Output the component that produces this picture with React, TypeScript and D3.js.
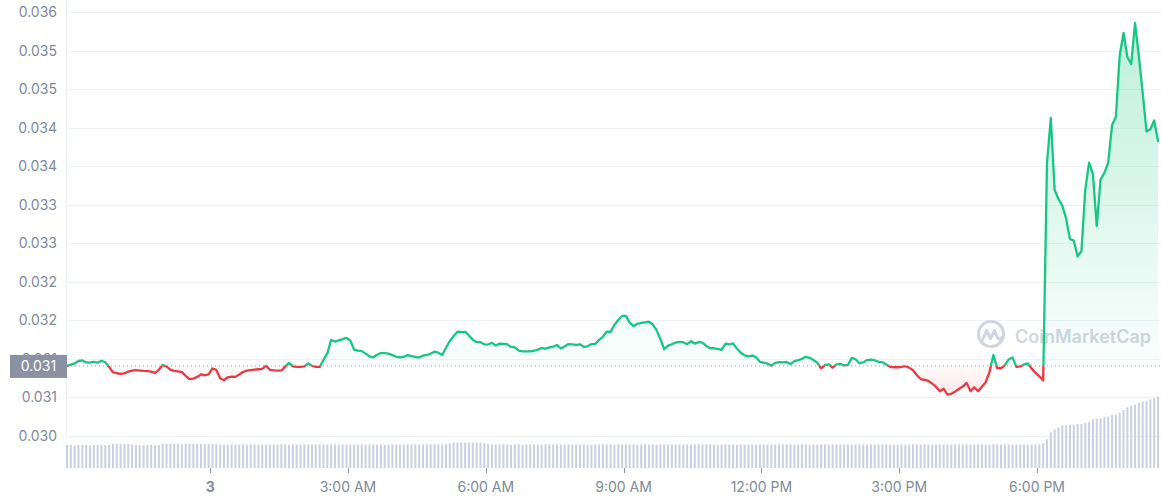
import React from "react";
import * as d3 from "d3";

const W = 1161;
const H = 500;

const startTime = new Date(2023, 0, 2, 20, 53);
const stepMinutes = 5;

const prices = [
  0.031409,0.031425,0.031442,0.031473,0.031480,0.031454,0.031451,0.031460,0.031451,0.031476,
  0.031457,0.031396,0.031327,0.031314,0.031305,0.031311,0.031336,0.031349,0.031355,0.031349,
  0.031344,0.031341,0.031336,0.031319,0.031359,0.031424,0.031400,0.031361,0.031344,0.031337,
  0.031330,0.031280,0.031237,0.031244,0.031266,0.031298,0.031288,0.031300,0.031376,0.031357,
  0.031248,0.031224,0.031262,0.031271,0.031267,0.031297,0.031330,0.031348,0.031355,0.031362,
  0.031366,0.031371,0.031411,0.031359,0.031350,0.031348,0.031350,0.031400,0.031448,0.031402,
  0.031397,0.031396,0.031402,0.031442,0.031411,0.031396,0.031396,0.031486,0.031571,0.031746,
  0.031725,0.031741,0.031756,0.031773,0.031739,0.031621,0.031607,0.031601,0.031568,0.031534,
  0.031521,0.031553,0.031576,0.031575,0.031569,0.031550,0.031527,0.031520,0.031528,0.031549,
  0.031537,0.031525,0.031518,0.031544,0.031551,0.031569,0.031594,0.031581,0.031551,0.031645,
  0.031732,0.031796,0.031853,0.031848,0.031852,0.031805,0.031750,0.031717,0.031716,0.031689,
  0.031686,0.031708,0.031674,0.031698,0.031694,0.031690,0.031655,0.031651,0.031608,0.031598,
  0.031599,0.031599,0.031606,0.031620,0.031641,0.031632,0.031649,0.031659,0.031680,0.031636,
  0.031662,0.031693,0.031689,0.031682,0.031690,0.031656,0.031664,0.031693,0.031695,0.031747,
  0.031787,0.031855,0.031852,0.031940,0.032005,0.032057,0.032058,0.031970,0.031924,0.031956,
  0.031968,0.031975,0.031982,0.031949,0.031873,0.031758,0.031625,0.031673,0.031690,0.031712,
  0.031722,0.031715,0.031691,0.031730,0.031699,0.031717,0.031712,0.031668,0.031638,0.031638,
  0.031629,0.031616,0.031698,0.031687,0.031702,0.031634,0.031580,0.031547,0.031534,0.031544,
  0.031521,0.031463,0.031453,0.031438,0.031413,0.031449,0.031458,0.031454,0.031460,0.031432,
  0.031471,0.031483,0.031501,0.031527,0.031514,0.031486,0.031451,0.031377,0.031420,0.031429,
  0.031388,0.031429,0.031435,0.031415,0.031422,0.031514,0.031496,0.031444,0.031455,0.031485,
  0.031490,0.031483,0.031462,0.031458,0.031427,0.031397,0.031392,0.031392,0.031396,0.031405,
  0.031387,0.031353,0.031288,0.031239,0.031227,0.031214,0.031180,0.031140,0.031081,0.031112,
  0.031038,0.031047,0.031075,0.031110,0.031141,0.031189,0.031082,0.031130,0.031081,0.031139,
  0.031199,0.031333,0.031551,0.031379,0.031379,0.031419,0.031493,0.031519,0.031396,0.031403,
  0.031428,0.031442,0.031374,0.031318,0.031274,0.031219,0.034042,0.034625,0.033691,0.033575,
  0.033490,0.033320,0.033056,0.033034,0.032830,0.032900,0.033695,0.034047,0.033896,0.033224,
  0.033828,0.033914,0.034048,0.034534,0.034641,0.035442,0.035728,0.035416,0.035326,0.035857,
  0.035429,0.034949,0.034450,0.034479,0.034593,0.034327,
];

const volumes = [
  2.30,2.31,2.26,2.30,2.29,2.31,2.27,2.30,2.30,2.32,
  2.30,2.31,2.40,2.41,2.39,2.42,2.40,2.36,2.30,2.29,
  2.26,2.30,2.31,2.28,2.30,2.40,2.41,2.39,2.40,2.42,
  2.38,2.40,2.41,2.39,2.40,2.40,2.42,2.39,2.40,2.41,
  2.36,2.35,2.33,2.36,2.34,2.35,2.37,2.33,2.35,2.36,
  2.34,2.35,2.36,2.33,2.35,2.34,2.36,2.35,2.33,2.36,
  2.35,2.34,2.36,2.35,2.33,2.35,2.36,2.34,2.35,2.37,
  2.36,2.35,2.34,2.36,2.35,2.33,2.35,2.36,2.34,2.35,
  2.36,2.34,2.35,2.33,2.36,2.35,2.34,2.36,2.35,2.37,
  2.35,2.36,2.34,2.35,2.36,2.35,2.37,2.36,2.35,2.38,
  2.45,2.52,2.55,2.56,2.54,2.55,2.53,2.55,2.52,2.48,
  2.40,2.36,2.35,2.34,2.36,2.35,2.33,2.35,2.36,2.34,
  2.35,2.36,2.34,2.35,2.33,2.36,2.35,2.34,2.36,2.35,
  2.34,2.36,2.35,2.33,2.35,2.36,2.34,2.35,2.36,2.35,
  2.37,2.36,2.35,2.34,2.36,2.35,2.34,2.36,2.35,2.33,
  2.35,2.36,2.34,2.35,2.33,2.36,2.35,2.34,2.36,2.35,
  2.34,2.36,2.35,2.33,2.35,2.36,2.34,2.35,2.36,2.35,
  2.33,2.35,2.36,2.34,2.35,2.33,2.36,2.35,2.34,2.36,
  2.35,2.34,2.36,2.35,2.33,2.35,2.36,2.34,2.35,2.36,
  2.35,2.33,2.35,2.36,2.34,2.35,2.33,2.36,2.35,2.34,
  2.36,2.35,2.34,2.36,2.35,2.33,2.35,2.36,2.34,2.35,
  2.36,2.35,2.33,2.35,2.36,2.34,2.35,2.33,2.36,2.35,
  2.34,2.36,2.35,2.34,2.36,2.35,2.33,2.35,2.36,2.34,
  2.35,2.33,2.36,2.35,2.34,2.36,2.35,2.33,2.35,2.36,
  2.34,2.35,2.36,2.35,2.34,2.36,2.35,2.33,2.35,2.36,
  2.35,2.34,2.37,2.37,2.37,2.47,2.87,3.57,3.87,4.07,
  4.27,4.27,4.33,4.33,4.40,4.40,4.53,4.63,4.87,4.93,
  4.97,5.13,5.13,5.33,5.33,5.53,5.80,6.07,6.23,6.33,
  6.53,6.63,6.73,6.87,7.00,7.13,
];

const yTickValues = [0.036, 0.0355, 0.035, 0.0345, 0.034, 0.0335, 0.033, 0.0325, 0.032, 0.0315, 0.031, 0.0305];
const yTickLabels = ["0.036", "0.035", "0.035", "0.034", "0.034", "0.033", "0.033", "0.032", "0.032", "0.031", "0.031", "0.030"];
const xTickHours = [0, 3, 6, 9, 12, 15, 18];
const xTickLabels = ["3", "3:00 AM", "6:00 AM", "9:00 AM", "12:00 PM", "3:00 PM", "6:00 PM"];
const currentPriceLabel = "0.031";
const watermarkText = "CoinMarketCap";

const GREEN = "#16c784";
const RED = "#ea3943";
const LABEL = "#808a9d";
const GRID = "#eff2f5";
const FONT = "Inter, 'Liberation Sans', Arial, sans-serif";

export default function App() {
  const times = prices.map((_, i) => new Date(startTime.getTime() + i * stepMinutes * 60000));
  const x = d3.scaleTime().domain([times[0], times[times.length - 1]]).range([67, 1158]);
  const y = d3.scaleLinear().domain([0.0305, 0.036]).range([436, 12]);
  const yVol = d3.scaleLinear().domain([0, 10]).range([468, 368]);
  const base = prices[0];
  const yBase = y(base);

  const line = d3
    .line<number>()
    .x((_, i) => x(times[i]))
    .y((d) => y(d));
  const area = d3
    .area<number>()
    .x((_, i) => x(times[i]))
    .y0(yBase)
    .y1((d) => y(d));

  const linePath = line(prices) || "";
  const areaPath = area(prices) || "";
  const yMax = y(d3.max(prices) as number);
  const yMin = y(d3.min(prices) as number);

  const day3 = new Date(2023, 0, 3, 0, 0);
  const xTicks = xTickHours.map((h, i) => ({
    t: new Date(day3.getTime() + h * 3600000),
    label: xTickLabels[i],
  }));

  return (
    <div style={{ position: "fixed", left: 0, top: 0, width: W, height: H, background: "#fff" }}>
      <svg width={W} height={H} style={{ display: "block" }} fontFamily={FONT}>
        <defs>
          <clipPath id="clipAbove">
            <rect x={0} y={0} width={W} height={yBase} />
          </clipPath>
          <clipPath id="clipBelow">
            <rect x={0} y={yBase} width={W} height={H - yBase} />
          </clipPath>
          <linearGradient id="gradGreen" gradientUnits="userSpaceOnUse" x1={0} y1={yMax} x2={0} y2={yBase}>
            <stop offset="0%" stopColor={GREEN} stopOpacity={0.28} />
            <stop offset="100%" stopColor={GREEN} stopOpacity={0.02} />
          </linearGradient>
          <linearGradient id="gradRed" gradientUnits="userSpaceOnUse" x1={0} y1={yBase} x2={0} y2={yMin}>
            <stop offset="0%" stopColor={RED} stopOpacity={0.02} />
            <stop offset="100%" stopColor={RED} stopOpacity={0.12} />
          </linearGradient>
        </defs>

        {/* grid */}
        {yTickValues.map((v, i) => (
          <line key={"g" + i} x1={67} x2={W} y1={Math.round(y(v)) + 0.5} y2={Math.round(y(v)) + 0.5} stroke={GRID} strokeWidth={1} />
        ))}
        <line x1={66.5} x2={66.5} y1={0} y2={436} stroke={GRID} strokeWidth={1} />

        {/* y labels */}
        {yTickValues.map((v, i) => (
          <text key={"yl" + i} x={57} y={y(v)} dy="0.36em" textAnchor="end" fontSize={14} fill={LABEL}>
            {yTickLabels[i]}
          </text>
        ))}

        {/* watermark */}
        <g opacity={0.9}>
          <circle cx={991} cy={334} r={12.5} fill="none" stroke="#ccd2dc" strokeWidth={3.2} />
          <path d="M982.5,340 L986.5,330.5 L990.5,338.5 L994.5,330.5 L997.5,337.5 Q999.5,341 1002.5,337" fill="none" stroke="#ccd2dc" strokeWidth={3} strokeLinejoin="round" strokeLinecap="round" />
          <text x={1015} y={342.5} fontSize={18} fontWeight={600} fill="#ccd2dc">
            {watermarkText}
          </text>
        </g>

        {/* volume bars */}
        {volumes.map((v, i) => (
          <rect key={"v" + i} x={x(times[i]) - 1} y={yVol(v)} width={2} height={yVol(0) - yVol(v)} fill="#c9d1e1" />
        ))}

        {/* areas */}
        <path d={areaPath} fill="url(#gradGreen)" clipPath="url(#clipAbove)" />
        <path d={areaPath} fill="url(#gradRed)" clipPath="url(#clipBelow)" />

        {/* baseline */}
        <line x1={67} x2={W} y1={yBase} y2={yBase} stroke="#9aa1b1" strokeWidth={1} strokeDasharray="1 3" />

        {/* price line */}
        <path d={linePath} fill="none" stroke={GREEN} strokeWidth={2.3} strokeLinejoin="round" strokeLinecap="round" clipPath="url(#clipAbove)" />
        <path d={linePath} fill="none" stroke={RED} strokeWidth={2.3} strokeLinejoin="round" strokeLinecap="round" clipPath="url(#clipBelow)" />

        {/* current price label */}
        <rect x={10} y={yBase - 11} width={57} height={23} fill="#8a91a3" />
        <text x={38.5} y={yBase + 0.5} dy="0.36em" textAnchor="middle" fontSize={14} fill="#ffffff">
          {currentPriceLabel}
        </text>

        {/* x axis */}
        {xTicks.map((t, i) => (
          <g key={"xt" + i}>
            <line x1={Math.round(x(t.t)) + 0.5} x2={Math.round(x(t.t)) + 0.5} y1={468} y2={473} stroke="#8a91a3" strokeWidth={1} />
            <text x={x(t.t)} y={492} textAnchor="middle" fontSize={14} fill={LABEL} fontWeight={i === 0 ? 700 : 400}>
              {t.label}
            </text>
          </g>
        ))}
      </svg>
    </div>
  );
}
